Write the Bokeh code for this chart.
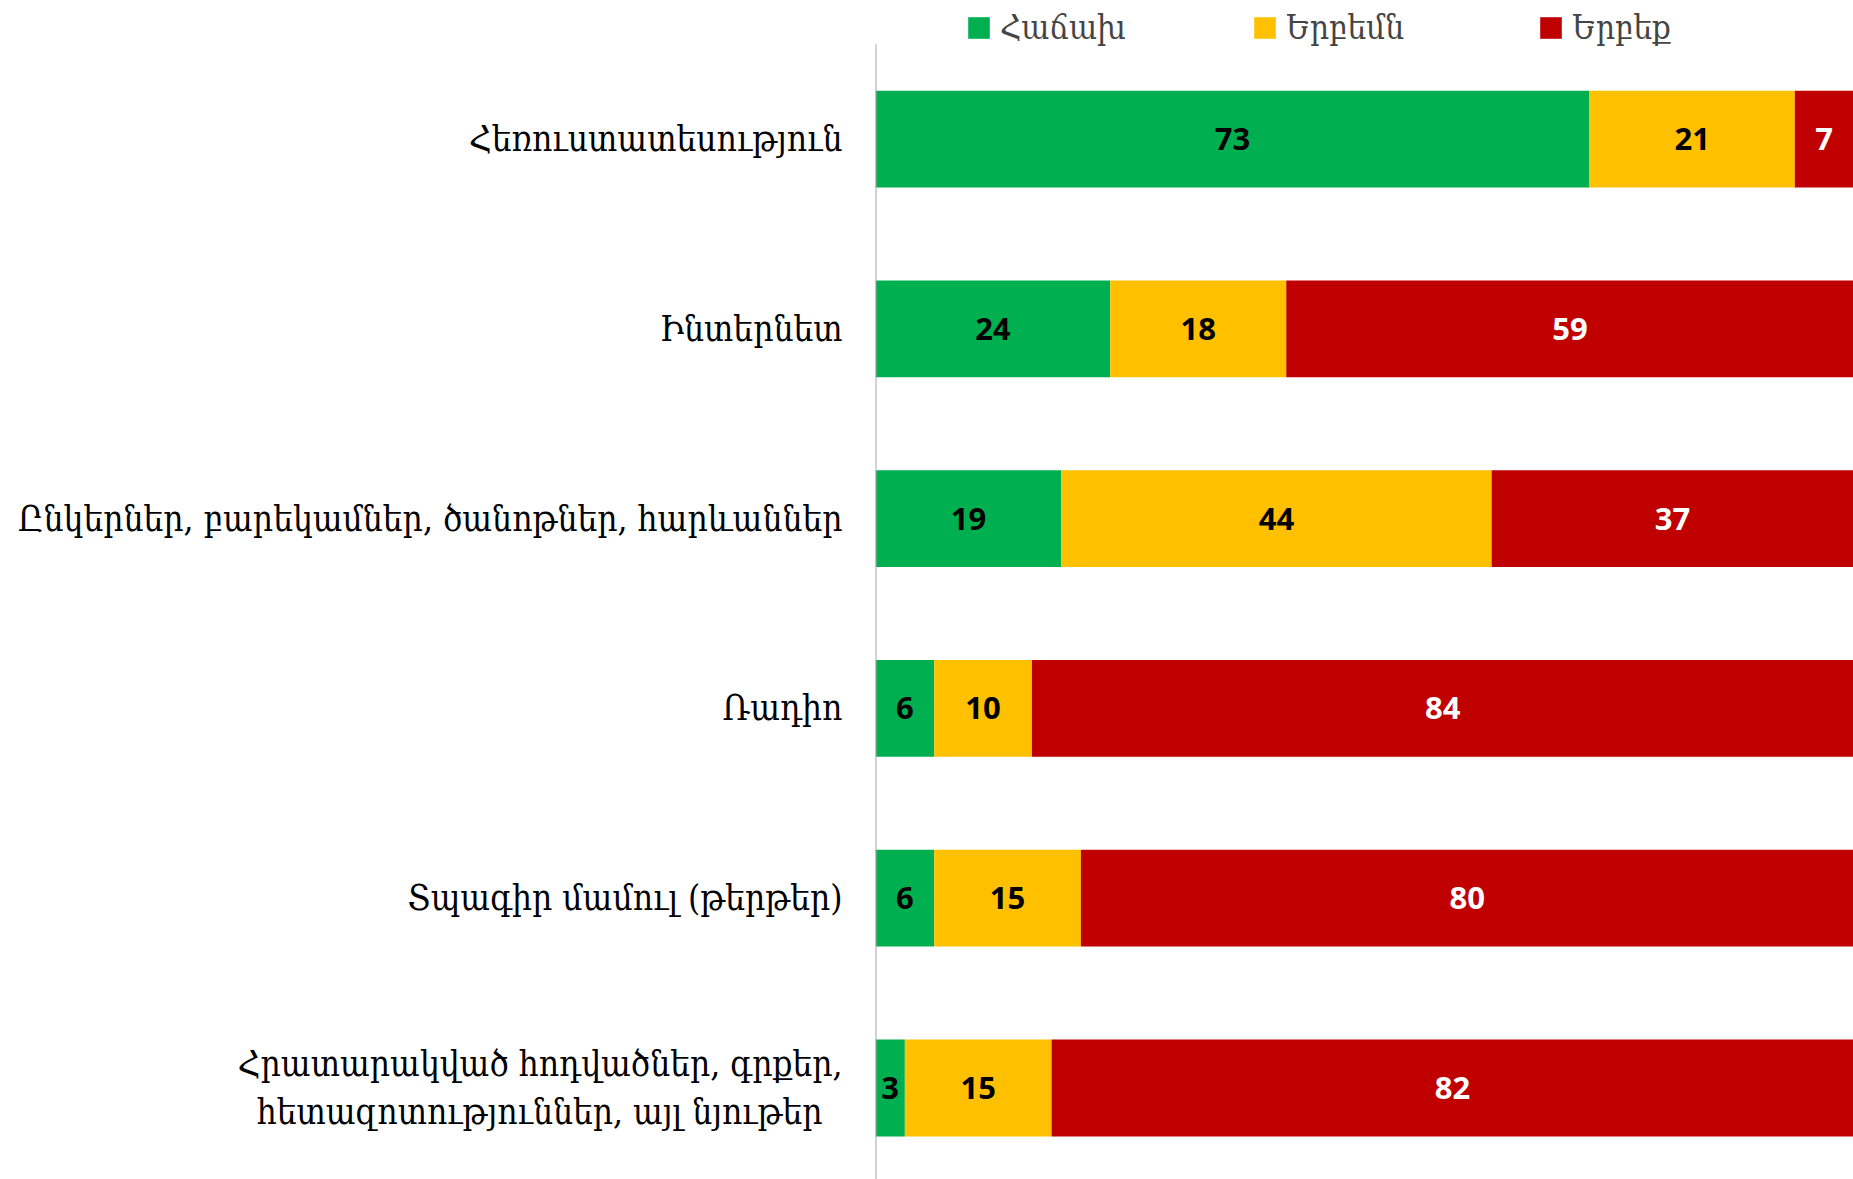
from bokeh.plotting import figure
from bokeh.models import ColumnDataSource, Legend, LegendItem, Range1d, FixedTicker
from bokeh.embed import file_html
from bokeh.resources import INLINE
from bokeh.core.properties import value

categories = [
    "Հեռուստատեսություն",
    "Ինտերնետ",
    "Ընկերներ, բարեկամներ, ծանոթներ, հարևաններ",
    "Ռադիո",
    "Տպագիր մամուլ (թերթեր)",
    "Հրատարակված հոդվածներ, գրքեր,\nհետազոտություններ, այլ նյութեր\u00a0\u00a0",
]
often = [73, 24, 19, 6, 6, 3]
sometimes = [21, 18, 44, 10, 15, 15]
never = [7, 59, 37, 84, 80, 82]
series_names = ["Հաճախ", "Երբեմն", "Երբեք"]
series_keys = ["often", "sometimes", "never"]
colors = ["#00B050", "#FFC000", "#C00000"]
label_colors = ["black", "black", "white"]

n = len(categories)
# first category on top
ypos = [n - 1 - i for i in range(n)]

source = ColumnDataSource(dict(y=ypos, often=often, sometimes=sometimes, never=never))

ARM_FONT = "DejaVu Serif Condensed"

p = figure(
    width=1853, height=1179,
    y_range=Range1d(-0.482, n - 1 + 0.730),
    x_range=Range1d(0, 100),
    output_backend="svg", toolbar_location=None,
    min_border_left=875, min_border_right=0, min_border_top=0, min_border_bottom=0,
)
p.outline_line_color = None
p.xaxis.visible = False
p.xgrid.grid_line_color = None
p.ygrid.grid_line_color = None

renderers = p.hbar_stack(series_keys, y="y", height=0.51, color=colors,
                         line_color=None, source=source)

# vertical category-axis line spanning the category bands
p.segment(x0=[0], y0=[-0.5], x1=[0], y1=[n - 0.5], line_color="#A6A6A6", line_width=2)

# data labels
lx, ly, lt, lc = [], [], [], []
series_vals = [often, sometimes, never]
for i in range(n):
    start = 0
    for s, vals in enumerate(series_vals):
        v = vals[i]
        end = min(start + v, 100)
        lx.append((start + end) / 2)
        ly.append(ypos[i])
        lt.append(str(v))
        lc.append(label_colors[s])
        start += v
lsrc = ColumnDataSource(dict(x=lx, y=ly, t=lt, c=lc))
p.text(x="x", y="y", text="t", text_color="c", source=lsrc,
       text_align="center", text_baseline="middle",
       text_font=value("Open Sans"), text_font_style="bold", text_font_size="31px")

yax = p.yaxis[0]
yax.ticker = FixedTicker(ticks=ypos)
yax.major_label_overrides = {yp: c for yp, c in zip(ypos, categories)}
yax.axis_line_color = None
yax.major_tick_line_color = None
yax.minor_tick_line_color = None
yax.major_label_text_font = ARM_FONT
yax.major_label_text_font_size = "35px"
yax.major_label_text_color = "black"
yax.major_label_standoff = 27

legend = Legend(
    items=[LegendItem(label=nm, renderers=[r]) for nm, r in zip(series_names, renderers)],
    orientation="horizontal", location=(90, 1132),
    glyph_width=27, glyph_height=27, label_standoff=8, spacing=0, label_width=251,
    padding=0, margin=0, border_line_color=None, background_fill_alpha=0,
    label_text_font=ARM_FONT, label_text_font_size="33px",
)
p.add_layout(legend, "center")

open("out.html", "w").write(file_html(p, INLINE))
